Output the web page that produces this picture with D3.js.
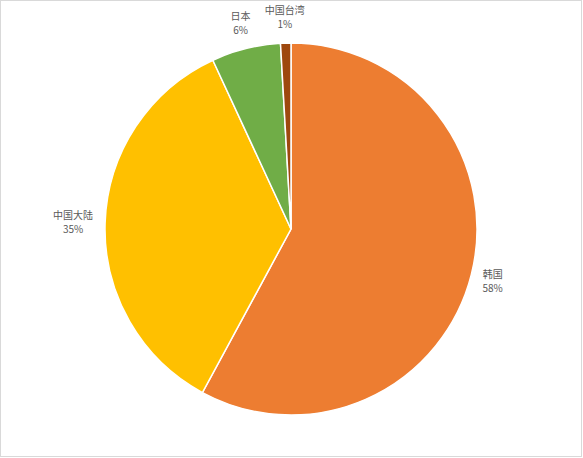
<!DOCTYPE html>
<html>
<head>
<meta charset="utf-8">
<script src="https://cdn.jsdelivr.net/npm/d3@7"></script>
<style>
  body { margin: 0; background: #fff; }
  svg { display: block; }
</style>
</head>
<body>
<svg width="583" height="458"></svg>
<script>
var regions = ["韩国", "中国大陆", "日本", "中国台湾"],
    shares = [57.9, 35.2, 6.0, 0.9],
    colors = ["#ED7D31", "#FFC000", "#70AD47", "#9E480E"];

var svg = d3.select("svg"),
    width = +svg.attr("width"),
    height = +svg.attr("height"),
    cx = 291, cy = 229,
    radius = 186;

// chart area border
svg.append("rect")
    .attr("x", 0.5).attr("y", 0.5)
    .attr("width", width - 2).attr("height", height - 2)
    .attr("fill", "#fff")
    .attr("stroke", "#d9d9d9");

var data = regions.map(function(r, i) { return {name: r, value: shares[i], color: colors[i]}; });
var total = d3.sum(shares);

var pie = d3.pie().sort(null).value(function(d) { return d.value; });
var arc = d3.arc().innerRadius(0).outerRadius(radius);

var g = svg.append("g").attr("transform", "translate(" + cx + "," + cy + ")");

var arcs = pie(data);

g.selectAll("path")
  .data(arcs)
  .enter().append("path")
    .attr("d", arc)
    .attr("fill", function(d) { return d.data.color; })
    .attr("stroke", "#fff")
    .attr("stroke-width", 1.5);

// outside-end labels
var labelR = 198, lineH = 14;
var labels = g.selectAll("g.label")
  .data(arcs)
  .enter().append("g")
    .attr("class", "label")
    .attr("transform", function(d) {
      var a = (d.startAngle + d.endAngle) / 2,
          s = Math.sin(a), c = Math.cos(a),
          w = d.data.name.length * 10;
      var x = labelR * s + s * w / 2,
          y = -labelR * c - c * lineH;
      return "translate(" + x + "," + y + ")";
    });

labels.append("text")
    .attr("text-anchor", "middle")
    .attr("y", -3)
    .attr("font-family", "'Noto Sans CJK SC', 'Noto Sans', sans-serif")
    .attr("font-size", 10)
    .attr("fill", "#595959")
    .text(function(d) { return d.data.name; });

labels.append("text")
    .attr("text-anchor", "middle")
    .attr("y", 11)
    .attr("font-family", "'Noto Sans CJK SC', 'Noto Sans', sans-serif")
    .attr("font-size", 10)
    .attr("fill", "#595959")
    .text(function(d) { return Math.round(d.data.value / total * 100) + "%"; });
</script>
</body>
</html>
